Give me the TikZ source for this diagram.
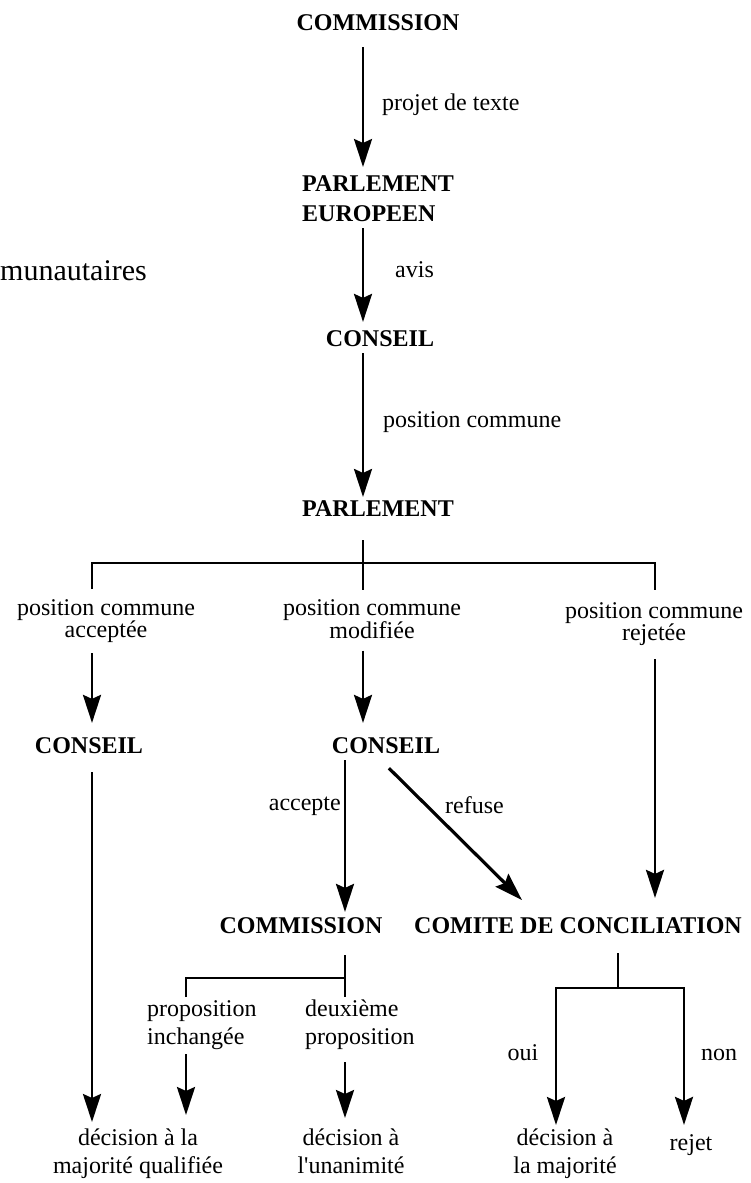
\documentclass[tikz,border=0pt]{standalone}
\usepackage{fontspec}
\setmainfont{Liberation Serif}
\usetikzlibrary{positioning,calc,arrows.meta}

\begin{document}
\begin{tikzpicture}[x=1pt,y=-1pt,
        inst/.style={font=\bfseries\fontsize{24}{30}\selectfont, inner sep=0pt},
        txt/.style={font=\fontsize{24}{28}\selectfont, inner sep=0pt},
        vote/.style={font=\fontsize{24}{22}\selectfont, inner sep=0pt, align=center, anchor=north},
        link/.style={line width=2.8pt},
        arr/.style={line width=2.8pt, -{Stealth[length=28pt,width=18pt,inset=4pt]}}]
        \useasboundingbox (0,0) rectangle (751,1183);

        % Columns
        \coordinate (spine) at (363,0);
        \coordinate (colA) at (92,0);
        \coordinate (colC) at (655,0);
        \coordinate (colD) at (345,0);
        \coordinate (colE) at (186,0);
        \coordinate (colF) at (556,0);
        \coordinate (colG) at (684,0);
        \coordinate (split1) at (363,563);
        \coordinate (split2) at (345,978);
        \coordinate (split3) at (618,988);

        % Title (at the edge)
        \node[anchor=base west, inner sep=0pt, font=\fontsize{30}{36}\selectfont] (title) at (0,280) {munautaires};

        % Institutions
        \node[inst, anchor=base] (com1) at (378,30) {COMMISSION};
        \node[inst, anchor=north west, align=left] (par1) at (302,175) {PARLEMENT\\EUROPEEN};
        \node[inst, anchor=base] (con1) at (380,346) {CONSEIL};
        \node[inst, anchor=base] (par2) at (378,516) {PARLEMENT};
        \node[inst, anchor=base] (con2) at (89,753) {CONSEIL};
        \node[inst, anchor=base] (con3) at (386,753) {CONSEIL};
        \node[inst, anchor=base] (com2) at (301,933) {COMMISSION};
        \node[inst, anchor=base] (ccc) at (578,933) {COMITE DE CONCILIATION};

        % Votes of the Parliament
        \node[vote] (pca) at (106,599) {position commune\\acceptée};
        \node[vote] (pcm) at (372,599) {position commune\\modifiée};
        \node[vote] (pcr) at (654,602) {position commune\\rejetée};

        % Proposals and decisions
        \node[txt, anchor=north west, align=left] (pin) at (147,1000) {proposition\\inchangée};
        \node[txt, anchor=north west, align=left] (dpr) at (305,1000) {deuxième\\proposition};
        \node[txt, anchor=north, align=center] (dq) at (138,1129) {décision à la\\majorité qualifiée};
        \node[txt, anchor=north, align=center] (du) at (351,1129) {décision à\\l\textquotesingle unanimité};
        \node[txt, anchor=north, align=center] (dm) at (565,1129) {décision à\\la majorité};
        \node[txt, anchor=base] (rej) at (691,1150) {rejet};

        % Labels
        \node[txt, anchor=base west] (lproj) at (382,110) {projet de texte};
        \node[txt, anchor=base west] (lavis) at (395,277) {avis};
        \node[txt, anchor=base west] (lpos) at (383,427) {position commune};
        \node[txt, anchor=base east] (lacc) at (341,810) {accepte};
        \node[txt, anchor=base west] (lref) at (445,813) {refuse};
        \node[txt, anchor=base] (loui) at (523,1060) {oui};
        \node[txt, anchor=base] (lnon) at (719,1060) {non};

        % Main line
        \draw[arr, shorten <=17pt, shorten >=8pt] (com1.south -| spine) -- (par1.north -| spine);
        \draw[arr, shorten <=7pt, shorten >=8pt] (par1.south -| spine) -- (con1.north -| spine);
        \draw[arr, shorten <=7pt, shorten >=3pt] (con1.south -| spine) -- (par2.north -| spine);

        % Three ways
        \draw[link, shorten <=24pt, shorten >=9pt] (par2.south -| spine) -- (pcm.north -| spine);
        \draw[link, shorten <=10pt, shorten >=12pt] (pca.north -| colA) |- (split1) -| (pcr.north -| colC);
        \draw[arr, shorten <=11pt, shorten >=14pt] (pca.south -| colA) -- (con2.north -| colA);
        \draw[arr, shorten <=19pt, shorten >=7pt] (con2.south -| colA) -- (dq.north -| colA);
        \draw[arr, shorten <=12pt, shorten >=14pt] (pcm.south -| spine) -- (con3.north -| spine);
        \draw[arr, shorten <=7pt, shorten >=5pt] (con3.south -| colD) -- (com2.north -| colD);
        \draw[arr, line width=3.2pt, shorten <=21pt, shorten >=24pt] ([xshift=-12pt]con3.south) -- ([xshift=-39pt]ccc.north);
        \draw[arr, shorten <=14pt, shorten >=19pt] (pcr.south -| colC) -- (ccc.north -| colC);

        % Commission splits
        \draw[link, shorten <=22pt, shorten >=3pt] (com2.south -| colD) -- (dpr.north -| colD);
        \draw[link, shorten <=3pt] (pin.north -| colE) |- (split2);
        \draw[arr, shorten <=5pt, shorten >=14pt] (pin.south -| colE) -- (dq.north -| colE);
        \draw[arr, shorten <=12pt, shorten >=11pt] (dpr.south -| colD) -- (du.north -| colD);

        % Conciliation splits
        \draw[link, shorten <=20pt] (ccc.south -| split3) -- (split3);
        \draw[arr, shorten >=4pt] (split3) -| (dm.north -| colF);
        \draw[arr, shorten >=9pt] (split3) -| (rej.north -| colG);
\end{tikzpicture}
\end{document}
